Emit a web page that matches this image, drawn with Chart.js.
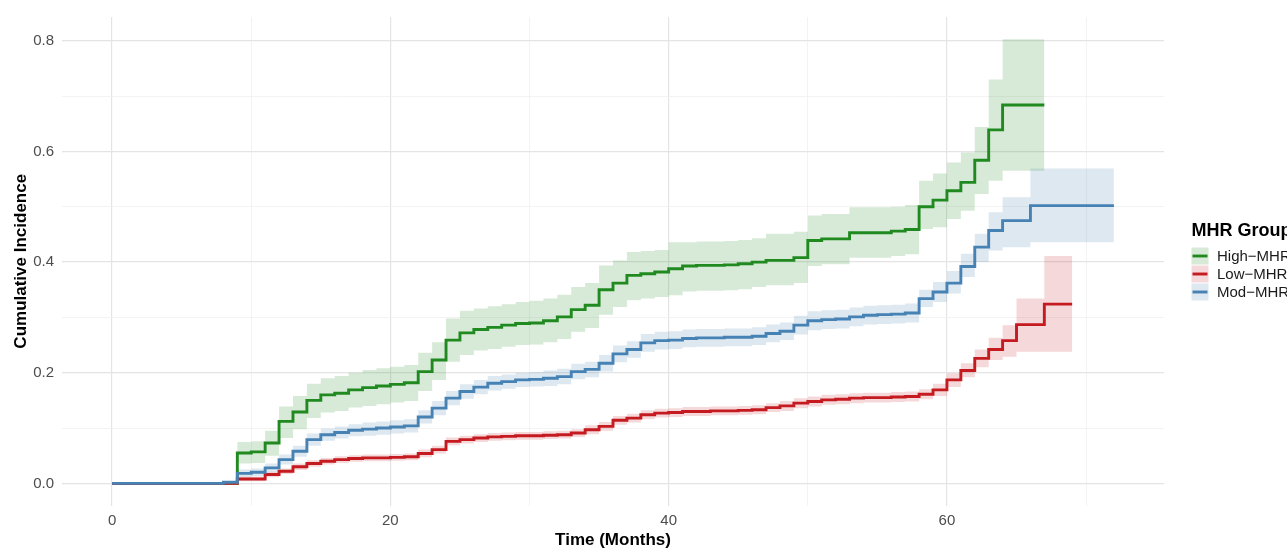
<!DOCTYPE html>
<html>
<head>
<meta charset="utf-8">
<script src="https://cdn.jsdelivr.net/npm/chart.js@4.4.1/dist/chart.umd.min.js"></script>
<style>
  html, body { margin: 0; padding: 0; background: #ffffff; }
  canvas { display: block; }
</style>
</head>
<body>
<canvas id="cif" width="1287" height="550"></canvas>
<script>
// Cumulative incidence by MHR group: step estimates with confidence bands (months)

const groupNames = ['High\u2212MHR', 'Low\u2212MHR', 'Mod\u2212MHR'];

// High-MHR
const highTime = [0,9,10,11,12,13,14,15,16,17,18,19,20,21,22,23,24,25,26,27,28,29,30,31,32,33,34,35,36,37,38,39,40,41,42,43,44,45,46,47,48,49,50,51,52,53,54,55,56,57,58,59,60,61,62,63,64,67];
const highEst  = [0,.055,.057,.073,.112,.129,.150,.160,.163,.169,.173,.176,.179,.182,.202,.223,.259,.272,.278,.282,.286,.289,.290,.294,.301,.314,.322,.350,.362,.376,.379,.382,.388,.393,.394,.394,.395,.397,.400,.403,.403,.408,.439,.442,.442,.453,.453,.453,.456,.459,.500,.512,.529,.544,.584,.639,.684,.684];
const highLower = [0,.036,.037,.050,.082,.098,.118,.128,.131,.137,.140,.143,.146,.149,.167,.187,.220,.232,.240,.243,.247,.250,.251,.255,.261,.274,.281,.305,.319,.331,.334,.337,.340,.347,.348,.348,.349,.351,.355,.358,.358,.362,.393,.396,.396,.408,.408,.408,.411,.414,.460,.463,.478,.493,.523,.547,.565,.565];
const highUpper = [0,.075,.076,.095,.139,.158,.180,.190,.194,.200,.205,.208,.211,.214,.236,.255,.298,.312,.316,.320,.324,.328,.330,.334,.341,.355,.362,.394,.403,.418,.420,.422,.436,.436,.437,.437,.438,.440,.443,.451,.451,.455,.484,.487,.487,.499,.499,.499,.500,.503,.547,.560,.580,.598,.644,.730,.803,.803];

// Low-MHR
const lowTime = [0,9,11,12,13,14,15,16,17,18,19,20,21,22,23,24,25,26,27,28,29,30,31,32,33,34,35,36,37,38,39,40,41,42,43,44,45,46,47,48,49,50,51,52,53,54,55,56,57,58,59,60,61,62,63,64,65,67,69];
const lowEst  = [0,.008,.016,.022,.030,.036,.040,.043,.045,.046,.046,.047,.048,.054,.061,.076,.079,.082,.084,.085,.086,.086,.087,.088,.091,.097,.103,.114,.118,.124,.127,.128,.130,.130,.131,.131,.132,.133,.137,.140,.145,.148,.151,.152,.154,.155,.155,.156,.157,.161,.169,.187,.204,.226,.242,.258,.287,.324,.324];
const lowLower = [0,.004,.011,.017,.024,.030,.034,.037,.039,.040,.040,.041,.042,.047,.054,.069,.072,.075,.077,.078,.079,.079,.080,.081,.084,.089,.095,.106,.110,.116,.119,.120,.122,.122,.123,.123,.124,.125,.129,.131,.136,.139,.142,.143,.145,.146,.146,.147,.148,.152,.158,.174,.192,.210,.223,.229,.238,.238,.238];
const lowUpper = [0,.012,.021,.027,.036,.042,.046,.049,.051,.052,.052,.053,.054,.061,.068,.083,.086,.089,.091,.092,.093,.093,.094,.095,.098,.105,.111,.122,.126,.132,.135,.136,.138,.138,.139,.139,.140,.141,.145,.149,.154,.157,.160,.161,.163,.164,.164,.165,.166,.170,.180,.199,.217,.242,.263,.286,.334,.411,.411];

// Mod-MHR
const modTime = [0,8,9,10,11,12,13,14,15,16,17,18,19,20,21,22,23,24,25,26,27,28,29,30,31,32,33,34,35,36,37,38,39,40,41,42,43,44,45,46,47,48,49,50,51,52,53,54,55,56,57,58,59,60,61,62,63,64,66,72];
const modEst  = [0,.002,.018,.020,.028,.043,.058,.079,.088,.092,.096,.098,.100,.102,.104,.120,.136,.154,.166,.174,.181,.184,.187,.188,.190,.193,.202,.206,.217,.234,.242,.254,.258,.259,.262,.263,.263,.264,.264,.266,.271,.275,.286,.294,.296,.297,.301,.304,.305,.306,.308,.334,.346,.362,.392,.427,.457,.475,.502,.502];
const modLower = [0,0,.011,.013,.020,.034,.048,.068,.077,.081,.085,.086,.088,.090,.092,.108,.123,.141,.153,.161,.168,.171,.174,.175,.176,.179,.188,.192,.202,.219,.227,.238,.242,.243,.246,.247,.247,.248,.248,.250,.255,.259,.269,.277,.279,.280,.284,.287,.288,.289,.291,.319,.328,.343,.373,.400,.421,.427,.436,.436];
const modUpper = [0,.004,.025,.027,.036,.052,.068,.090,.099,.103,.107,.110,.112,.114,.116,.132,.149,.167,.179,.187,.194,.197,.200,.201,.204,.207,.216,.220,.232,.249,.257,.270,.274,.275,.278,.279,.279,.280,.280,.282,.287,.291,.303,.311,.313,.314,.318,.321,.322,.323,.325,.350,.364,.384,.415,.451,.490,.517,.569,.569];

// Axis ticks (major ones carry labels; minor ones only draw grid lines)
const xGridValues = [0,10,20,30,40,50,60,70];
const xTickLabels = [0,20,40,60];
const yGridValues = [0,0.1,0.2,0.3,0.4,0.5,0.6,0.7,0.8];
const yTickLabels = [0,0.2,0.4,0.6,0.8];

const lineColors = ['#208A20', '#C41A20', '#4682B4'];
const bandColors = ['rgba(34,139,34,0.18)', 'rgba(196,26,32,0.17)', 'rgba(70,130,180,0.18)'];

const FONT = '"Liberation Sans", Arial, Helvetica, sans-serif';

function pts(t, v) { return t.map((x, i) => ({ x: x, y: v[i] })); }

function lineSet(label, t, v, color) {
  return { label, data: pts(t, v), borderColor: color, borderWidth: 2.9, stepped: true,
           pointRadius: 0, fill: false, borderCapStyle: 'butt', borderJoinStyle: 'miter' };
}
function upperSet(t, v, color) {
  return { label: 'upper', data: pts(t, v), borderColor: 'transparent', borderWidth: 1, stepped: true,
           pointRadius: 0, fill: '+1', backgroundColor: color };
}
function lowerSet(t, v) {
  return { label: 'lower', data: pts(t, v), borderColor: 'transparent', borderWidth: 1, stepped: true,
           pointRadius: 0, fill: false };
}

const datasets = [
  lineSet(groupNames[2], modTime, modEst, lineColors[2]),
  lineSet(groupNames[1], lowTime, lowEst, lineColors[1]),
  lineSet(groupNames[0], highTime, highEst, lineColors[0]),
  upperSet(highTime, highUpper, bandColors[0]), lowerSet(highTime, highLower),
  upperSet(lowTime, lowUpper, bandColors[1]),   lowerSet(lowTime, lowLower),
  upperSet(modTime, modUpper, bandColors[2]),   lowerSet(modTime, modLower)
];

// Axis titles and the group key drawn on the canvas
const decorations = {
  id: 'decorations',
  afterDraw(chart) {
    const ctx = chart.ctx;
    const area = chart.chartArea;
    ctx.save();
    ctx.fillStyle = '#000000';
    ctx.font = 'bold 17px ' + FONT;
    ctx.textAlign = 'center';
    ctx.textBaseline = 'middle';
    ctx.fillText('Time (Months)', (area.left + area.right) / 2, 540);
    ctx.save();
    ctx.translate(21, (area.top + area.bottom) / 2);
    ctx.rotate(-Math.PI / 2);
    ctx.fillText('Cumulative Incidence', 0, 0);
    ctx.restore();

    // key
    const kx = 1191.5, ky0 = 247.5, ks = 17, step = 18;
    ctx.textAlign = 'left';
    ctx.textBaseline = 'alphabetic';
    ctx.font = 'bold 18px ' + FONT;
    ctx.fillText('MHR Group', kx, 236);
    ctx.font = '15px ' + FONT;
    ctx.textBaseline = 'middle';
    groupNames.forEach((name, i) => {
      const y = ky0 + i * step;
      ctx.fillStyle = bandColors[i];
      ctx.fillRect(kx, y, ks, ks);
      ctx.strokeStyle = lineColors[i];
      ctx.lineWidth = 2.9;
      ctx.beginPath();
      ctx.moveTo(kx + 1, y + ks / 2);
      ctx.lineTo(kx + ks - 1, y + ks / 2);
      ctx.stroke();
      ctx.fillStyle = '#1A1A1A';
      ctx.fillText(name, 1217, y + ks / 2 + 0.5);
    });
    ctx.restore();
  }
};

new Chart(document.getElementById('cif'), {
  type: 'line',
  data: { datasets },
  options: {
    responsive: false,
    animation: false,
    events: [],
    layout: { padding: { top: 15, right: 123, left: 0, bottom: 0 } },
    plugins: {
      legend: { display: false },
      tooltip: { enabled: false },
      filler: { drawTime: 'beforeDatasetsDraw', propagate: false }
    },
    scales: {
      x: {
        type: 'linear', min: -3.6, max: 75.6,
        afterBuildTicks: s => { s.ticks = xGridValues.map(v => ({ value: v })); },
        afterFit: s => { s.height = 44.5; },
        border: { display: false },
        grid: {
          drawTicks: false,
          color: c => xTickLabels.includes(c.tick.value) ? '#E4E4E4' : '#F0F0F0',
          lineWidth: c => xTickLabels.includes(c.tick.value) ? 1.2 : 0.8
        },
        ticks: {
          autoSkip: false, maxRotation: 0, padding: 6,
          color: '#4D4D4D', font: { family: FONT, size: 15 },
          callback: v => xTickLabels.includes(v) ? String(v) : ''
        }
      },
      y: {
        type: 'linear', min: -0.04, max: 0.843,
        afterBuildTicks: s => { s.ticks = yGridValues.map(v => ({ value: v })); },
        afterFit: s => { s.width = 62; },
        border: { display: false },
        grid: {
          drawTicks: false,
          color: c => yTickLabels.some(v => Math.abs(v - c.tick.value) < 1e-6) ? '#E4E4E4' : '#F0F0F0',
          lineWidth: c => yTickLabels.some(v => Math.abs(v - c.tick.value) < 1e-6) ? 1.2 : 0.8
        },
        ticks: {
          autoSkip: false, padding: 8,
          color: '#4D4D4D', font: { family: FONT, size: 15 },
          callback: v => yTickLabels.some(t => Math.abs(t - v) < 1e-6) ? v.toFixed(1) : ''
        }
      }
    }
  },
  plugins: [decorations]
});
</script>
</body>
</html>
